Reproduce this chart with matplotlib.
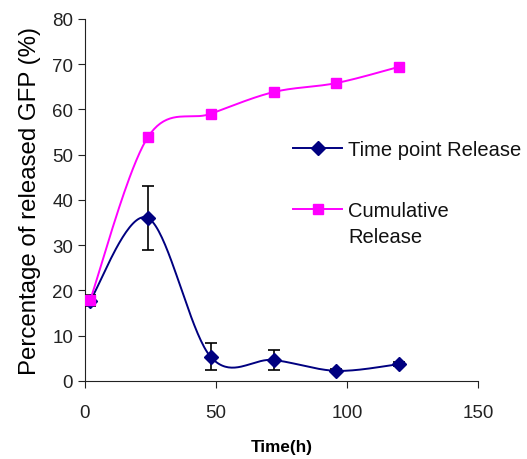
import numpy as np
import matplotlib
matplotlib.use("Agg")
import matplotlib.pyplot as plt

plt.rcParams["font.family"] = ["Liberation Sans", "DejaVu Sans"]

# ── data ──────────────────────────────────────────
time_h = [2, 24, 48, 72, 96, 120]
time_point = [17.7, 36.0, 5.3, 4.6, 2.2, 3.7]
time_point_err = [1.2, 7.0, 3.0, 2.3, 0.3, 0.4]
cumulative = [17.8, 53.8, 59.0, 63.8, 65.8, 69.4]

X_MAX, Y_MAX = 150, 80
NAVY = "#000080"
MAGENTA = "#FF00FF"


def smooth(xs, ys, sx, sy, n=40):
    # Catmull-Rom style Bezier smoothing, done in screen-scaled coordinates
    p = np.column_stack([np.asarray(xs, float) * sx, np.asarray(ys, float) * sy])
    out = [p[0]]
    for i in range(len(p) - 1):
        p0 = p[i - 1] if i > 0 else p[i]
        p1, p2 = p[i], p[i + 1]
        p3 = p[i + 2] if i + 2 < len(p) else p[i + 1]
        c1 = p1 + (p2 - p0) / 6
        c2 = p2 - (p3 - p1) / 6
        t = np.linspace(0, 1, n)[1:, None]
        seg = ((1 - t) ** 3) * p1 + 3 * ((1 - t) ** 2) * t * c1 \
            + 3 * (1 - t) * t ** 2 * c2 + t ** 3 * p2
        out.extend(seg)
    out = np.array(out)
    return out[:, 0] / sx, out[:, 1] / sy


fig = plt.figure(figsize=(5.27, 4.6), dpi=100)
ax = fig.add_axes([0.161, 0.170, 0.746, 0.787])

# axes are ~393 x 362 px
sx, sy = 393 / X_MAX, 362 / Y_MAX

tx, ty = smooth(time_h, time_point, sx, sy)
ax.plot(tx, ty, color=NAVY, lw=1.4, zorder=2)
ax.errorbar(time_h, time_point, yerr=time_point_err, fmt="none",
            ecolor="black", elinewidth=1.2, capsize=4.5, capthick=1.2, zorder=3)
ax.plot(time_h, time_point, ls="none", marker="D", ms=7,
        color=NAVY, zorder=4)

cx, cy = smooth(time_h, cumulative, sx, sy)
ax.plot(cx, cy, color=MAGENTA, lw=1.4, zorder=5)
ax.plot(time_h, cumulative, ls="none", marker="s", ms=7.5,
        color=MAGENTA, zorder=6)

# legend proxies
ax.plot([], [], color=NAVY, lw=1.4, marker="D", ms=7,
        label="Time point Release")
ax.plot([], [], color=MAGENTA, lw=1.4, marker="s", ms=7.5,
        label="Cumulative")
leg = ax.legend(loc="upper left", bbox_to_anchor=(0.556, 0.694),
                bbox_transform=fig.transFigure, frameon=False,
                fontsize=14.5, handlelength=2.45, handletextpad=0.3,
                labelspacing=2.1, borderpad=0, borderaxespad=0)
for t in leg.get_texts():
    t.set_color("#111111")

ax.set_xlim(0, X_MAX)
ax.set_ylim(0, Y_MAX)
ax.set_xticks([0, 50, 100, 150])
ax.set_yticks(range(0, 81, 10))
ax.tick_params(labelsize=13.5, direction="out", length=5, width=0.8,
               colors="#222222")
ax.tick_params(axis="x", pad=12)
for s in ["top", "right"]:
    ax.spines[s].set_visible(False)
for s in ["left", "bottom"]:
    ax.spines[s].set_linewidth(0.8)
    ax.spines[s].set_color("#222222")

ax.set_xlabel("Time(h)", fontsize=12.3, fontweight="bold", labelpad=13)
ax.set_ylabel("Percentage of released GFP (%)", fontsize=17.3, labelpad=8)

# second line of the wrapped "Cumulative Release" label
fig.canvas.draw()
bb = leg.get_texts()[1].get_window_extent()
fig.text(bb.x0 / fig.bbox.width, (bb.y0 + bb.y1) / 2 / fig.bbox.height - 26 / fig.bbox.height,
         "Release", ha="left", va="center", fontsize=14.5, color="#111111")

fig.savefig("out.png", dpi=100)
